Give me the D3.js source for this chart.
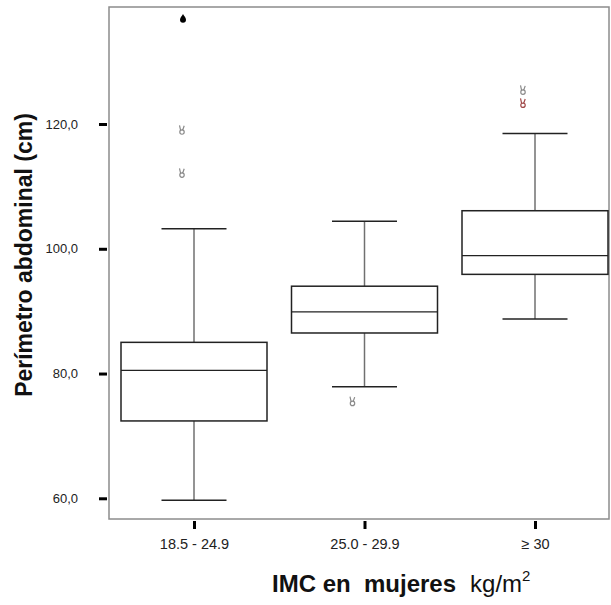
<!DOCTYPE html>
<html>
<head>
<meta charset="utf-8">
<script src="https://cdn.jsdelivr.net/npm/d3@7"></script>
<style>
  body { margin: 0; background: #fff; }
  text { font-family: "Liberation Sans", Arial, sans-serif; }
</style>
</head>
<body>
<div id="chart"></div>
<script>
// groups and box stats
var groups = ["18.5 - 24.9", "25.0 - 29.9", "\u2265 30"];
var lowWhisker = [59.7, 77.9, 88.75];
var q1 = [72.4, 86.5, 95.9];
var median = [80.5, 89.9, 98.9];
var q3 = [85.0, 94.0, 106.1];
var highWhisker = [103.2, 104.4, 118.5];
var outliers = [
  { g: 0, v: 119.0, c: "#8a8a8a" },
  { g: 0, v: 112.1, c: "#8a8a8a" },
  { g: 1, v: 75.5, c: "#8a8a8a" },
  { g: 2, v: 125.4, c: "#8a8a8a" },
  { g: 2, v: 123.3, c: "#a04848" }
];
var extremes = [{ g: 0, v: 136.9 }];
var yTicks = [60, 80, 100, 120];

var width = 611, height = 605;
var frame = { left: 109, right: 609, top: 7, bottom: 519 };

var svg = d3.select("#chart").append("svg")
  .attr("width", width).attr("height", height);

var y = d3.scaleLinear().domain([56.68, 138.76]).range([frame.bottom, frame.top]);
var x = d3.scalePoint().domain(groups).range([194, 535]);

var boxW = 146, capW = 65;

// frame
svg.append("rect")
  .attr("x", frame.left).attr("y", frame.top)
  .attr("width", frame.right - frame.left).attr("height", frame.bottom - frame.top)
  .attr("fill", "none").attr("stroke", "#8c8c8c").attr("stroke-width", 1.5);

// y axis
var yAxis = svg.append("g")
  .attr("transform", "translate(" + (frame.left - 2) + ",0)")
  .call(d3.axisLeft(y).tickValues(yTicks).tickSize(8).tickPadding(21)
    .tickFormat(function (d) { return d3.format(".1f")(d).replace(".", ","); }));
yAxis.select(".domain").remove();
yAxis.selectAll(".tick line").attr("stroke", "#000").attr("stroke-width", 3);
yAxis.selectAll(".tick text").attr("font-size", 13).attr("fill", "#222")
  .attr("font-family", "Liberation Sans, Arial, sans-serif");

// x axis
var xAxis = svg.append("g")
  .attr("transform", "translate(0," + (frame.bottom + 2) + ")")
  .call(d3.axisBottom(x).tickSize(8).tickPadding(10));
xAxis.select(".domain").remove();
xAxis.selectAll(".tick line").attr("stroke", "#000").attr("stroke-width", 3);
xAxis.selectAll(".tick text").attr("font-size", 14.5).attr("fill", "#222")
  .attr("font-family", "Liberation Sans, Arial, sans-serif");

// boxes
var boxes = svg.append("g").selectAll("g")
  .data(groups).enter().append("g");

boxes.append("line")
  .attr("x1", function (d) { return x(d); }).attr("x2", function (d) { return x(d); })
  .attr("y1", function (d, i) { return y(highWhisker[i]); })
  .attr("y2", function (d, i) { return y(q3[i]); })
  .attr("stroke", "#707070").attr("stroke-width", 1.5);
boxes.append("line")
  .attr("x1", function (d) { return x(d); }).attr("x2", function (d) { return x(d); })
  .attr("y1", function (d, i) { return y(q1[i]); })
  .attr("y2", function (d, i) { return y(lowWhisker[i]); })
  .attr("stroke", "#707070").attr("stroke-width", 1.5);
boxes.append("line")
  .attr("x1", function (d) { return x(d) - capW / 2; }).attr("x2", function (d) { return x(d) + capW / 2; })
  .attr("y1", function (d, i) { return y(highWhisker[i]); })
  .attr("y2", function (d, i) { return y(highWhisker[i]); })
  .attr("stroke", "#222").attr("stroke-width", 1.5);
boxes.append("line")
  .attr("x1", function (d) { return x(d) - capW / 2; }).attr("x2", function (d) { return x(d) + capW / 2; })
  .attr("y1", function (d, i) { return y(lowWhisker[i]); })
  .attr("y2", function (d, i) { return y(lowWhisker[i]); })
  .attr("stroke", "#222").attr("stroke-width", 1.5);
boxes.append("rect")
  .attr("x", function (d) { return x(d) - boxW / 2; })
  .attr("y", function (d, i) { return y(q3[i]); })
  .attr("width", boxW)
  .attr("height", function (d, i) { return y(q1[i]) - y(q3[i]); })
  .attr("fill", "#fff").attr("stroke", "#222").attr("stroke-width", 1.5);
boxes.append("line")
  .attr("x1", function (d) { return x(d) - boxW / 2; }).attr("x2", function (d) { return x(d) + boxW / 2; })
  .attr("y1", function (d, i) { return y(median[i]); })
  .attr("y2", function (d, i) { return y(median[i]); })
  .attr("stroke", "#222").attr("stroke-width", 1.2);

// outliers: small hand-like marker, drawn left of centre like the original
var hand = "M-1.5,-0.5 L-2.5,-5 M0.8,-0.5 L2.2,-4.5 M-2.2,1.8 A2.2,2.2 0 1 0 2.2,1.8 A2.2,2.2 0 1 0 -2.2,1.8";
svg.append("g").selectAll("path")
  .data(outliers).enter().append("path")
  .attr("transform", function (d) { return "translate(" + (x(groups[d.g]) - 12) + "," + y(d.v) + ")"; })
  .attr("d", hand)
  .attr("fill", "none")
  .attr("stroke", function (d) { return d.c; })
  .attr("stroke-width", 1.2);

// extreme values: black drop
svg.append("g").selectAll("path")
  .data(extremes).enter().append("path")
  .attr("transform", function (d) { return "translate(" + (x(groups[d.g]) - 11) + "," + y(d.v) + ")"; })
  .attr("d", "M0,-4.5 C1,-2.5 3,-1 3,1.2 A3,3 0 0 1 -3,1.2 C-3,-1 -1,-2.5 0,-4.5 Z")
  .attr("fill", "#000");

// axis titles
svg.append("text")
  .attr("transform", "translate(32,255) rotate(-90)")
  .attr("text-anchor", "middle")
  .attr("font-size", 23).attr("font-weight", "bold").attr("fill", "#111")
  .text("Perímetro abdominal (cm)");

var xt = svg.append("text")
  .attr("x", 272).attr("y", 592)
  .attr("fill", "#111")
  .style("white-space", "pre");
xt.append("tspan").attr("font-size", 24).attr("font-weight", "bold").text("IMC en  mujeres");
xt.append("tspan").attr("font-size", 24).attr("dx", 14).text("kg/m");
xt.append("tspan").attr("font-size", 15).attr("dy", -11).text("2");
</script>
</body>
</html>
